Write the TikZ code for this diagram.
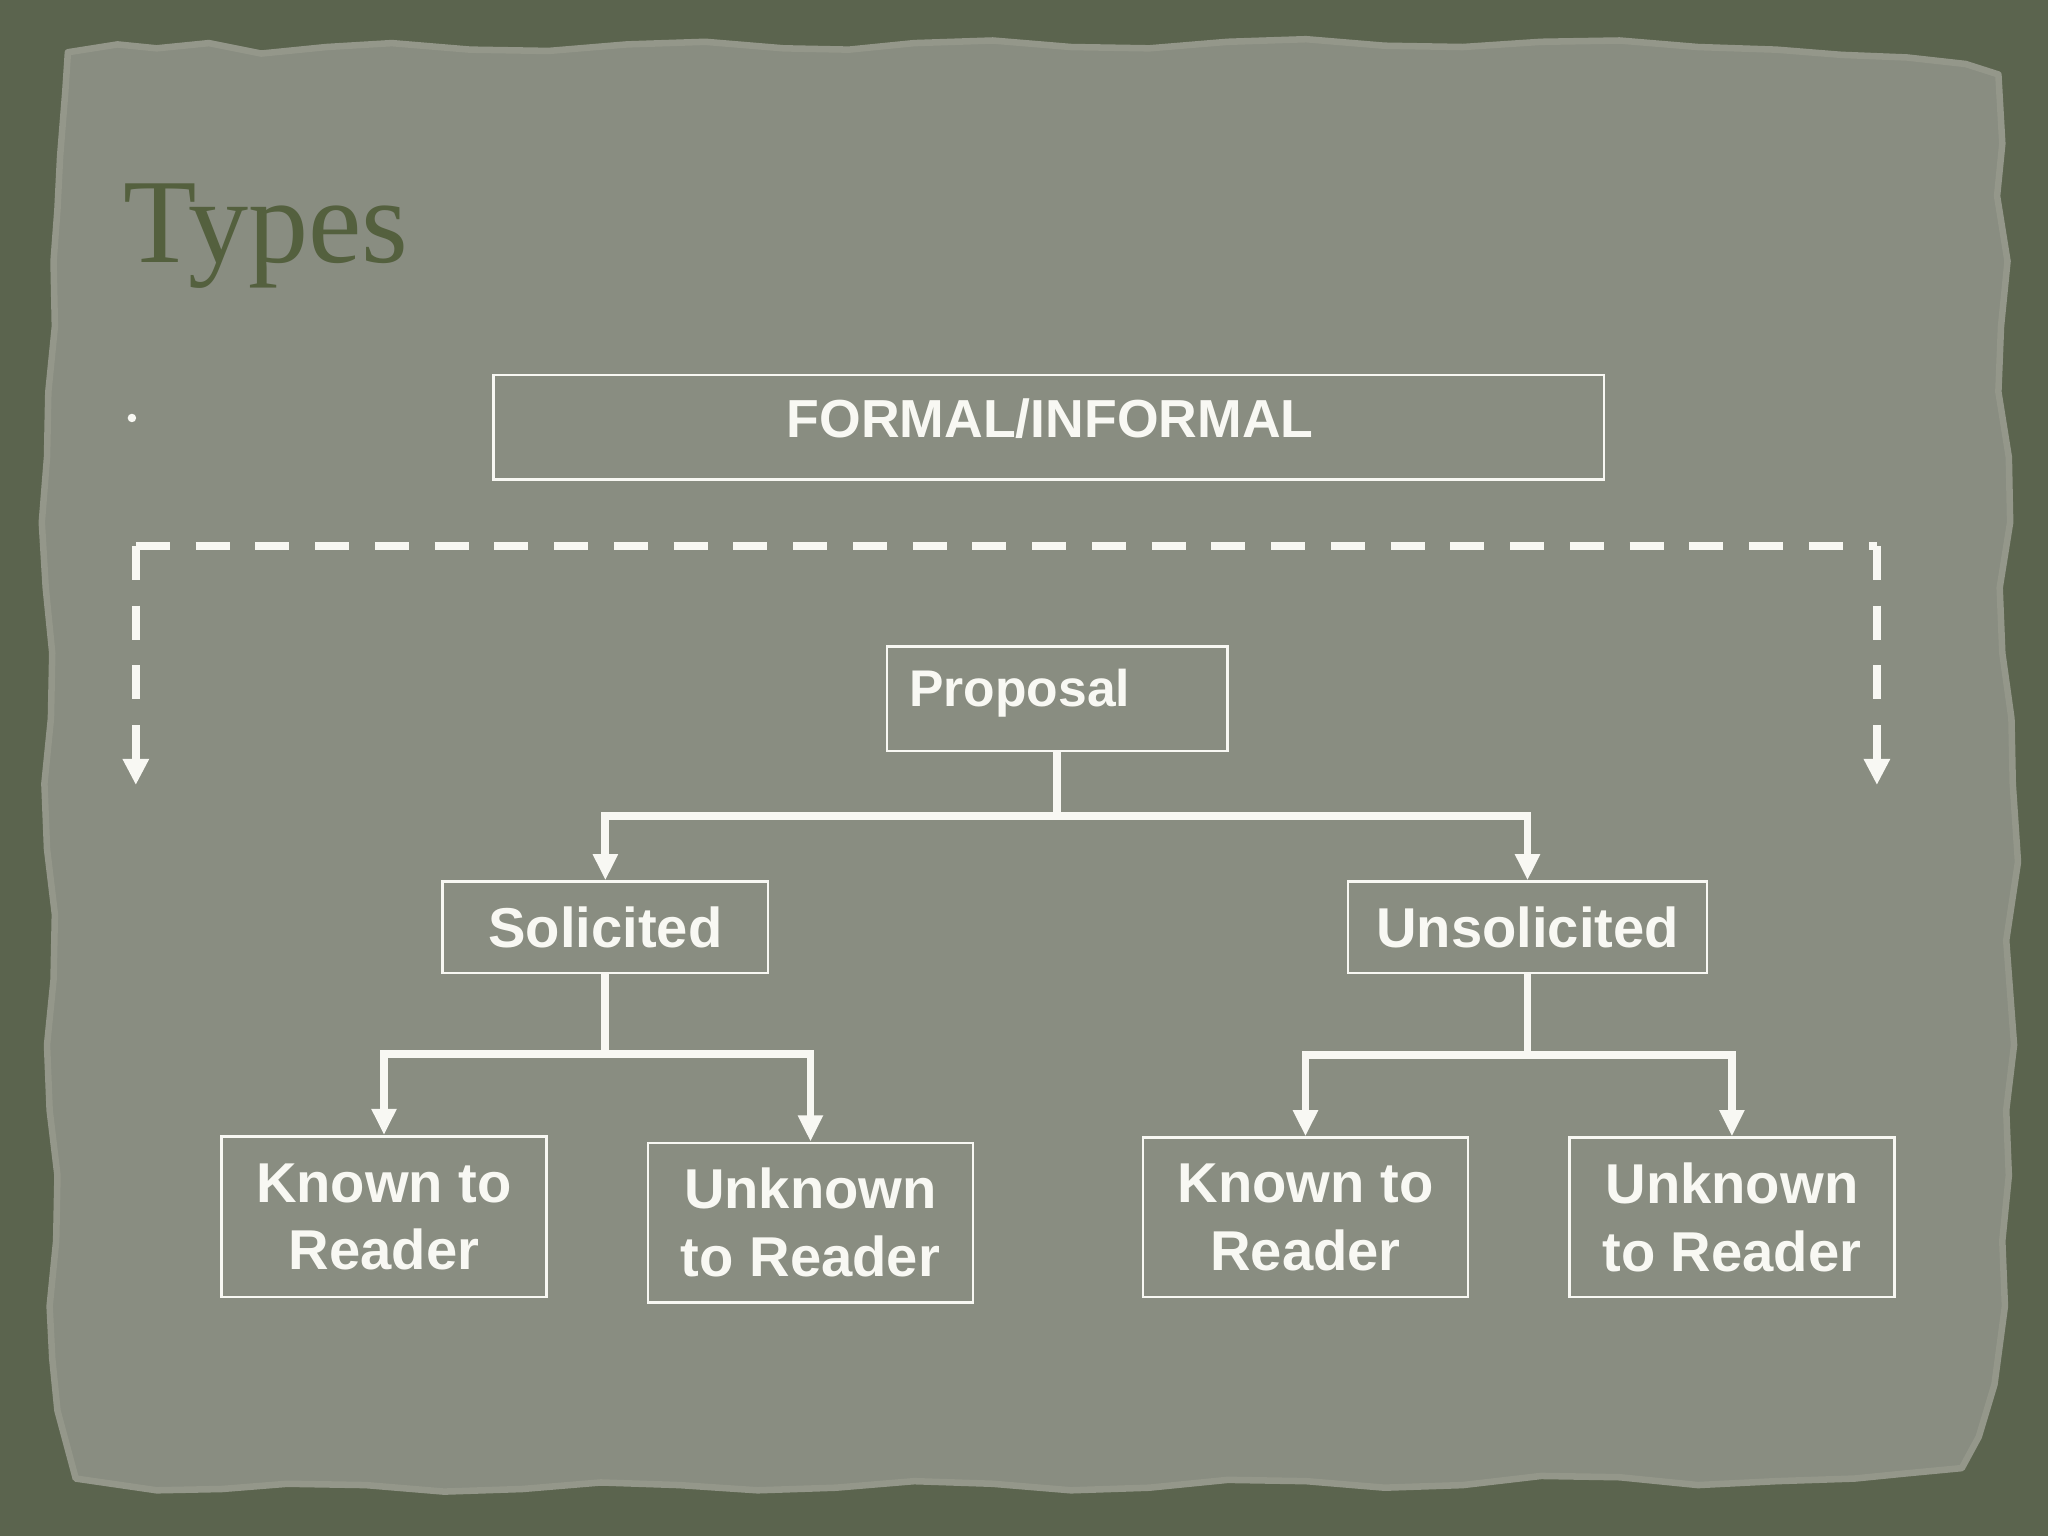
\documentclass[tikz,border=0pt]{standalone}
\usepackage{fontspec}
\newfontfamily\lsans{Liberation Sans}
\newfontfamily\lserif{Liberation Serif}
\usetikzlibrary{arrows.meta}
\definecolor{frame}{RGB}{91,100,78}
\definecolor{paper}{RGB}{137,141,129}
\definecolor{paperedge}{RGB}{148,151,138}
\definecolor{ink}{RGB}{248,248,243}
\definecolor{titlecol}{RGB}{84,96,62}
\begin{document}
\begin{tikzpicture}[x=1pt,y=-1pt,
  box/.style={draw=ink, line width=2pt, inner sep=0pt, rectangle},
  lbl/.style={text=ink, inner sep=0pt, font=\lsans\bfseries\fontsize{43}{51.5}\selectfont, align=center},
  conn/.style={draw=ink, line width=6pt},
  arr/.style={conn, -{Triangle[length=20pt,width=18pt]}},
  dashline/.style={draw=ink, line width=6pt, dash pattern=on 26pt off 19.75pt},
  dasharr/.style={dashline, -{Triangle[length=20pt,width=19pt]}},
]
\useasboundingbox (0,0) rectangle (1568,1176);
\fill[frame] (0,0) rectangle (1568,1176);
% torn paper
\fill[paper, draw=paperedge, line width=5pt, line join=round] plot coordinates {
 (52,40) (90,34) (120,37) (160,33) (200,41) (250,36) (300,33) (360,38) (420,39) (480,34) (540,32) (600,37) (650,38) (700,33) (760,31) (820,36) (880,37) (940,32) (1000,30) (1060,35) (1120,36) (1180,32) (1240,31) (1300,36) (1360,38) (1410,42) (1460,44) (1505,49) (1530,57)
 (1533,110) (1529,150) (1537,200) (1532,250) (1530,300) (1538,350) (1539,400) (1531,450) (1533,500) (1540,550) (1541,600) (1545,660) (1536,720) (1542,800) (1536,850) (1538,900) (1533,950) (1535,1000) (1527,1060) (1515,1100) (1502,1124)
 (1460,1128) (1420,1132) (1360,1134) (1300,1137) (1240,1131) (1180,1130) (1120,1137) (1060,1139) (1000,1134) (940,1133) (880,1139) (820,1141) (760,1136) (700,1134) (640,1139) (580,1141) (520,1137) (460,1135) (400,1140) (340,1142) (280,1137) (220,1136) (170,1140) (120,1141) (58,1132)
 (44,1080) (40,1040) (38,1000) (43,950) (44,900) (38,850) (36,800) (41,750) (42,700) (36,650) (34,600) (39,550) (40,500) (35,450) (32,400) (36,350) (37,300) (42,250) (41,200) (44,160) (46,120) (50,70)
} -- cycle;

% title
\node[anchor=base west, inner sep=0pt, text=titlecol, font=\lserif\fontsize{92}{100}\selectfont] (title) at (94,201) {Types};

% bullet
\node[circle, fill=ink, inner sep=0pt, minimum size=6.5pt] (bullet) at (101,320) {};

% FORMAL/INFORMAL
\node[box, minimum width=850pt, minimum height=80pt] (formal) at (803,327) {};
\node[lbl, font=\lsans\bfseries\fontsize{41}{49}\selectfont, anchor=base] (formaltxt) at (804,335) {FORMAL/INFORMAL};

% dashed bracket
\coordinate (dtl) at (104,418);
\coordinate (dtr) at (1437,418);
\coordinate (dbl) at (104,601);
\coordinate (dbr) at (1437,601);
\draw[dashline] (dtl) -- (dtr);
\draw[dasharr] (dtl) -- (dbl);
\draw[dasharr] (dtr) -- (dbr);

% Proposal
\node[box, minimum width=261pt, minimum height=80pt] (proposal) at (809.5,535) {};
\node[lbl, font=\lsans\bfseries\fontsize{39.5}{47}\selectfont, anchor=base west] (proposaltxt) at (696,541) {Proposal};

% second level
\node[box, lbl, minimum width=249pt, minimum height=70pt] (solicited) at (463.5,710) {Solicited};
\node[box, lbl, minimum width=275pt, minimum height=70pt] (unsolicited) at (1169.5,710) {Unsolicited};

% third level
\node[box, lbl, minimum width=249pt, minimum height=123pt] (known1) at (294,931.5) {Known to\\Reader};
\node[box, lbl, minimum width=249pt, minimum height=122pt] (unknown1) at (620.5,936) {Unknown\\to Reader};
\node[box, lbl, minimum width=249pt, minimum height=122pt] (known2) at (999.5,932) {Known to\\Reader};
\node[box, lbl, minimum width=249pt, minimum height=122pt] (unknown2) at (1326,932) {Unknown\\to Reader};

% connectors
\coordinate (j1) at (809.5,625);
\draw[conn] (proposal.south) -- (j1);
\draw[arr] (j1) -| (solicited.north);
\draw[arr] (j1) -| (unsolicited.north);

\coordinate (j2) at (463.5,807);
\draw[conn] (solicited.south) -- (j2);
\draw[arr] (j2) -| (known1.north);
\draw[arr] (j2) -| (unknown1.north);

\coordinate (j3) at (1169.5,808);
\draw[conn] (unsolicited.south) -- (j3);
\draw[arr] (j3) -| (known2.north);
\draw[arr] (j3) -| (unknown2.north);
\end{tikzpicture}
\end{document}
